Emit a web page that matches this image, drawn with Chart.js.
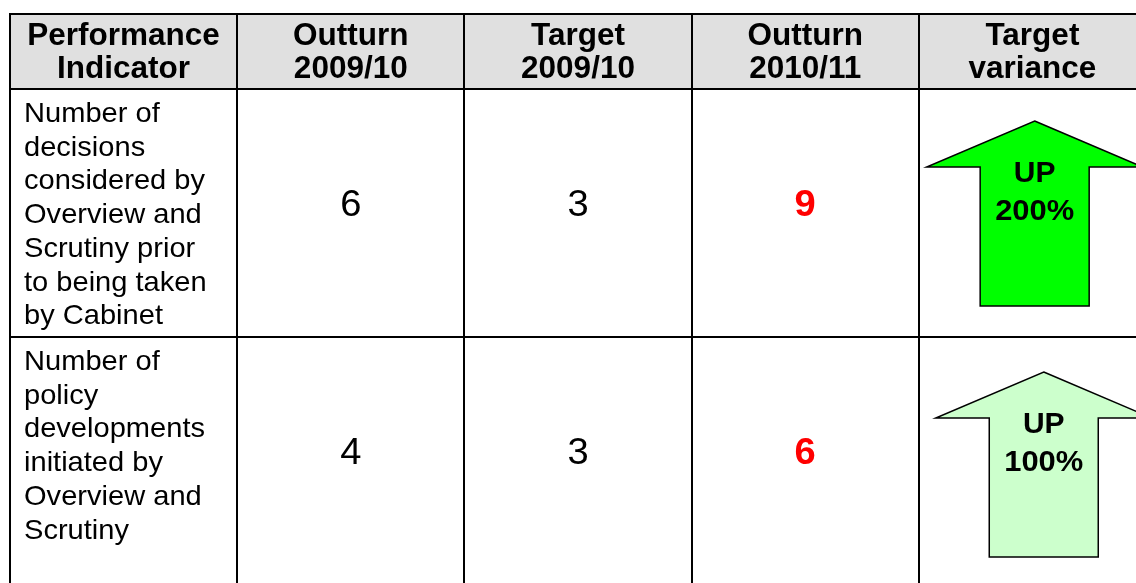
<!DOCTYPE html>
<html>
<head>
<meta charset="utf-8">
<script src="https://cdn.jsdelivr.net/npm/chart.js@4"></script>
<style>
html, body { margin: 0; padding: 0; background: #fff; overflow: hidden; }
canvas { position: absolute; left: 0; top: 0; }
</style>
</head>
<body>
<canvas id="piTable" width="1150" height="600"></canvas>
<script>
// table content
const headers = [
    ['Performance', 'Indicator'],
    ['Outturn', '2009/10'],
    ['Target', '2009/10'],
    ['Outturn', '2010/11'],
    ['Target', 'variance']
];
const indicators = [
    ['Number of', 'decisions', 'considered by', 'Overview and', 'Scrutiny prior', 'to being taken', 'by Cabinet'],
    ['Number of', 'policy', 'developments', 'initiated by', 'Overview and', 'Scrutiny']
];
const outturn0910 = [6, 4];
const target0910 = [3, 3];
const outturn1011 = [9, 6];
const varianceDir = ['UP', 'UP'];
const variancePct = [200, 100];

// layout (table units: x = columns, y = px from table top)
const rowEdges = [0, 75, 323, 590];
const arrowCenterX = [4.51, 4.55];
const arrowTopOffset = [32, 35];
const arrowFill = ['#00ff00', '#ccffcc'];
const FONT = "'Liberation Sans', Arial, sans-serif";

function drawText(ctx, str, x, y, font, align, color, sx) {
    ctx.save();
    ctx.translate(x, y);
    ctx.scale(sx, 1);
    ctx.font = font;
    ctx.textAlign = align;
    ctx.textBaseline = 'alphabetic';
    ctx.fillStyle = color;
    ctx.fillText(str, 0, 0);
    ctx.restore();
}

const tablePlugin = {
    id: 'tablePlugin',
    afterDraw(chart) {
        const ctx = chart.ctx;
        const X = v => chart.scales.x.getPixelForValue(v);
        const Y = v => chart.scales.y.getPixelForValue(v);

        ctx.save();
        // header background
        ctx.fillStyle = '#e0e0e0';
        ctx.fillRect(X(0), Y(0), X(5) - X(0), Y(rowEdges[1]) - Y(0));

        // header text
        headers.forEach((lines, c) => {
            const cx = (X(c) + X(c + 1)) / 2;
            lines.forEach((t, i) => {
                drawText(ctx, t, cx, Y(31 + i * 33), 'bold 31.5px ' + FONT, 'center', '#000', 1.0);
            });
        });

        // body rows
        indicators.forEach((lines, r) => {
            const top = rowEdges[r + 1];
            lines.forEach((t, i) => {
                drawText(ctx, t, X(0) + 14, Y(top + 33 + i * 33.7), '28.5px ' + FONT, 'left', '#000', 1.02);
            });
            const base = Y(top + 127);
            drawText(ctx, String(outturn0910[r]), (X(1) + X(2)) / 2, base, '37px ' + FONT, 'center', '#000', 1.03);
            drawText(ctx, String(target0910[r]), (X(2) + X(3)) / 2, base, '37px ' + FONT, 'center', '#000', 1.03);
            drawText(ctx, String(outturn1011[r]), (X(3) + X(4)) / 2, base, 'bold 37px ' + FONT, 'center', '#ff0000', 1.03);

            // arrow
            const ax = X(arrowCenterX[r]);
            const ay = Y(top + arrowTopOffset[r]);
            ctx.beginPath();
            ctx.moveTo(ax, ay);
            ctx.lineTo(ax + 108, ay + 46);
            ctx.lineTo(ax + 54.5, ay + 46);
            ctx.lineTo(ax + 54.5, ay + 185);
            ctx.lineTo(ax - 54.5, ay + 185);
            ctx.lineTo(ax - 54.5, ay + 46);
            ctx.lineTo(ax - 108, ay + 46);
            ctx.closePath();
            ctx.fillStyle = arrowFill[r];
            ctx.fill();
            ctx.lineWidth = 1.5;
            ctx.strokeStyle = '#000';
            ctx.stroke();
            drawText(ctx, varianceDir[r], ax, ay + 61, 'bold 30px ' + FONT, 'center', '#000', 1.0);
            drawText(ctx, variancePct[r] + '%', ax, ay + 99, 'bold 30px ' + FONT, 'center', '#000', 1.03);
        });

        // grid lines
        ctx.strokeStyle = '#000';
        ctx.lineWidth = 2;
        ctx.beginPath();
        for (let c = 0; c <= 5; c++) {
            const x = Math.round(X(c));
            ctx.moveTo(x, Y(0) - 1);
            ctx.lineTo(x, Y(rowEdges[3]));
        }
        rowEdges.forEach(e => {
            const y = Math.round(Y(e));
            ctx.moveTo(X(0) - 1, y);
            ctx.lineTo(X(5) + 1, y);
        });
        ctx.stroke();
        ctx.restore();
    }
};

new Chart(document.getElementById('piTable'), {
    type: 'scatter',
    data: { datasets: [] },
    options: {
        responsive: false,
        animation: false,
        devicePixelRatio: 1,
        layout: { padding: { left: 10, top: 14, right: 4, bottom: 0 } },
        plugins: { legend: { display: false }, tooltip: { enabled: false } },
        scales: {
            x: { type: 'linear', min: 0, max: 5, display: false },
            y: { type: 'linear', min: 0, max: 586, reverse: true, display: false }
        }
    },
    plugins: [tablePlugin]
});
</script>
</body>
</html>
